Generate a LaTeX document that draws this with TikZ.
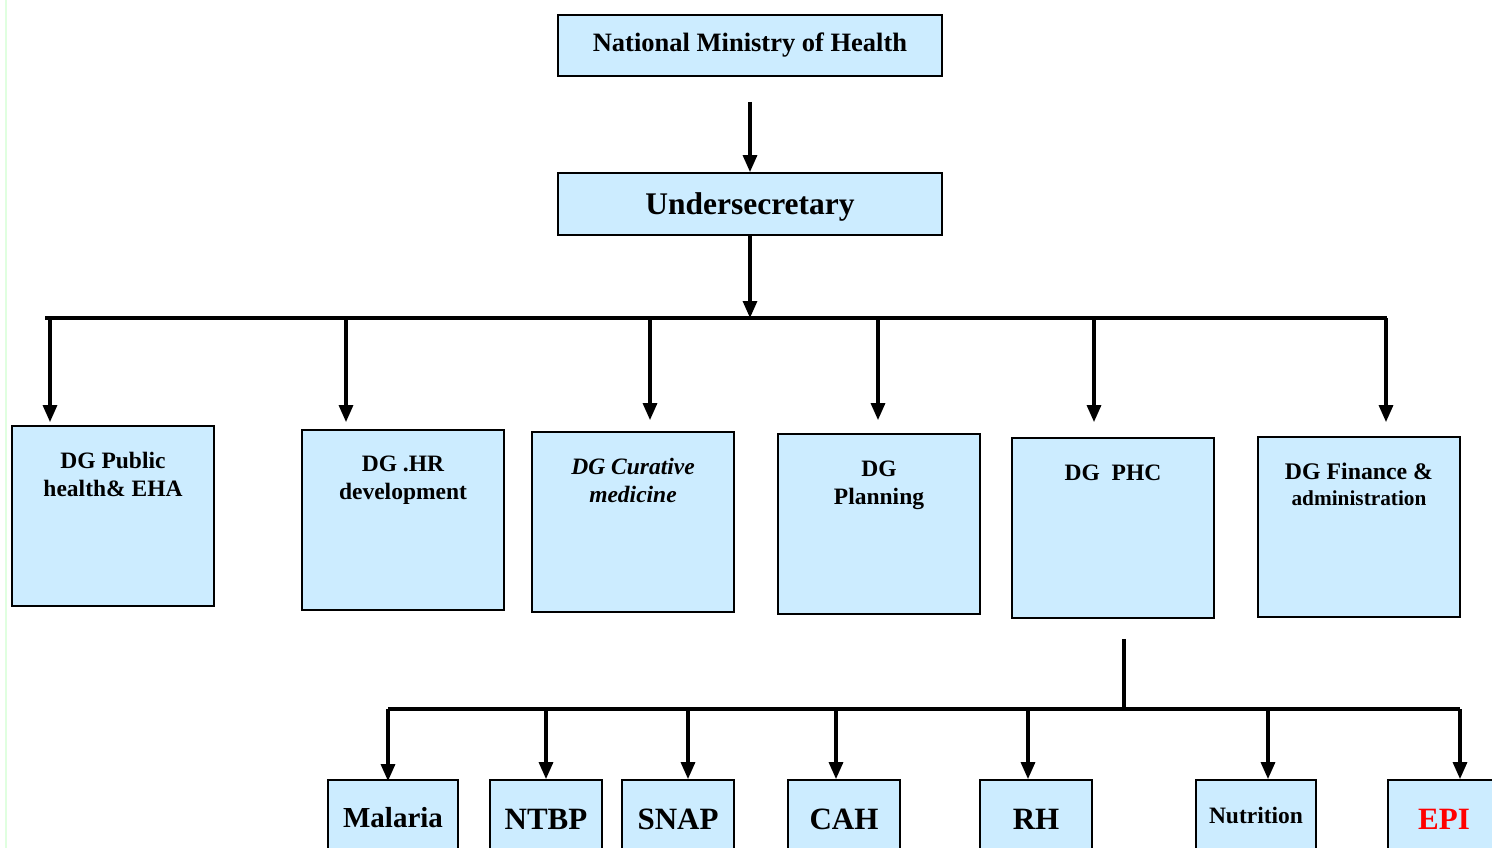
\documentclass[tikz,border=0pt]{standalone}
\usepackage{fontspec}
\setmainfont{Liberation Serif}
\usetikzlibrary{arrows.meta,calc}
\definecolor{boxblue}{RGB}{204,236,255}
\definecolor{edgegreen}{RGB}{224,255,224}
\newcommand{\setfs}[2]{\fontsize{#1}{#2}\selectfont}
\begin{document}
\begin{tikzpicture}[x=1pt,y=-1pt,
  box/.style={draw=black, fill=boxblue, line width=1.8pt, inner sep=0pt},
  dgbox/.style={box, minimum width=202pt, minimum height=180pt},
  botbox/.style={box, minimum width=112pt, minimum height=100pt},
  dgtxt/.style={anchor=north, inner sep=0pt, align=center, font=\bfseries\setfs{23.5}{28}},
  bottxt/.style={anchor=base, inner sep=0pt, font=\bfseries\setfs{31}{34}},
  arr/.style={line width=3.2pt, -{Triangle[length=17pt,width=14pt]}},
  ln/.style={line width=3.2pt}]
\useasboundingbox (0,0) rectangle (1492,848);
\clip (0,0) rectangle (1492,848);
\fill[white] (0,0) rectangle (1492,848);
\draw[edgegreen, line width=2pt] (6,0) -- (6,848);

% top boxes
\node[box, minimum width=384pt, minimum height=61pt, font=\bfseries\setfs{26.5}{30}] (nat) at (750,45.5) {National Ministry of Health};
\node[box, minimum width=384pt, minimum height=62pt, font=\bfseries\setfs{31.5}{34}, text depth=1.5pt] (und) at (750,204) {Undersecretary};
\draw[arr] ([yshift=-25pt]nat.south) -- (und.north);

% DG boxes
\node[dgbox] (dg1) at (113,516) {};
\node[dgbox] (dg2) at (403,520) {};
\node[dgbox] (dg3) at (633,522) {};
\node[dgbox] (dg4) at (879,524) {};
\node[dgbox] (dg5) at (1113,528) {};
\node[dgbox] (dg6) at (1359,527) {};
\node[dgtxt] (t1) at ([yshift=-27pt]dg1.north) {DG Public\\health\& EHA};
\node[dgtxt] (t2) at ([yshift=-27pt]dg2.north) {DG .HR\\development};
\node[dgtxt, font=\bfseries\itshape\setfs{23.5}{28}] (t3) at ([yshift=-27pt]dg3.north) {DG Curative\\medicine};
\node[dgtxt] (t4) at ([yshift=-28pt]dg4.north) {DG\\Planning};
\node[dgtxt] (t5) at ([yshift=-28pt]dg5.north) {DG~~PHC};
\node[dgtxt, font=\bfseries\setfs{23.8}{26}] (t6) at ([yshift=-27pt]dg6.north) {DG Finance \&\\{\setfs{21.3}{26}administration}};

% first level bar
\coordinate (barL) at (45,318);
\coordinate (barR) at (1387,318);
\draw[ln] (barL) -- (barR);
\draw[arr] (und.south) -- (und.south |- barL);
\coordinate (d1) at (50,318);
\coordinate (d2) at (346,318);
\coordinate (d3) at (650,318);
\coordinate (d4) at (878,318);
\coordinate (d5) at (1094,318);
\coordinate (d6) at (1386,318);
\draw[arr, shorten >=3pt] (d1) -- (d1 |- dg1.north);
\draw[arr, shorten >=7pt] (d2) -- (d2 |- dg2.north);
\draw[arr, shorten >=11pt] (d3) -- (d3 |- dg3.north);
\draw[arr, shorten >=13pt] (d4) -- (d4 |- dg4.north);
\draw[arr, shorten >=15pt] (d5) -- (d5 |- dg5.north);
\draw[arr, shorten >=14pt] (d6) -- (d6 |- dg6.north);

% bottom boxes
\node[botbox, minimum width=130pt] (b1) at (393,830) {};
\node[botbox] (b2) at (546,830) {};
\node[botbox] (b3) at (678,830) {};
\node[botbox] (b4) at (844,830) {};
\node[botbox] (b5) at (1036,830) {};
\node[botbox, minimum width=120pt] (b6) at (1256,830) {};
\node[botbox] (b7) at (1444,830) {};
\node[bottxt, font=\bfseries\setfs{29}{32}] (s1) at ([yshift=-48pt]b1.north) {Malaria};
\node[bottxt] (s2) at ([yshift=-50pt]b2.north) {NTBP};
\node[bottxt] (s3) at ([yshift=-50pt]b3.north) {SNAP};
\node[bottxt] (s4) at ([yshift=-50pt]b4.north) {CAH};
\node[bottxt] (s5) at ([yshift=-50pt]b5.north) {RH};
\node[bottxt, font=\bfseries\setfs{23.5}{26}] (s6) at ([yshift=-44pt]b6.north) {Nutrition};
\node[bottxt, text=red] (s7) at ([yshift=-50pt]b7.north) {EPI};

% second level bar
\coordinate (pj) at (1124,709);
\coordinate (bbL) at (388,709);
\coordinate (bbR) at (1460,709);
\draw[ln] ([yshift=-20pt]dg5.south -| pj) -- (pj);
\draw[ln] (bbL) -- (bbR);
\coordinate (e1) at (388,709);
\coordinate (e2) at (546,709);
\coordinate (e3) at (688,709);
\coordinate (e4) at (836,709);
\coordinate (e5) at (1028,709);
\coordinate (e6) at (1268,709);
\coordinate (e7) at (1460,709);
\draw[arr, shorten >=-2pt] (e1) -- (e1 |- b1.north);
\draw[arr] (e2) -- (e2 |- b2.north);
\draw[arr] (e3) -- (e3 |- b3.north);
\draw[arr] (e4) -- (e4 |- b4.north);
\draw[arr] (e5) -- (e5 |- b5.north);
\draw[arr] (e6) -- (e6 |- b6.north);
\draw[arr] (e7) -- (e7 |- b7.north);
\end{tikzpicture}
\end{document}
